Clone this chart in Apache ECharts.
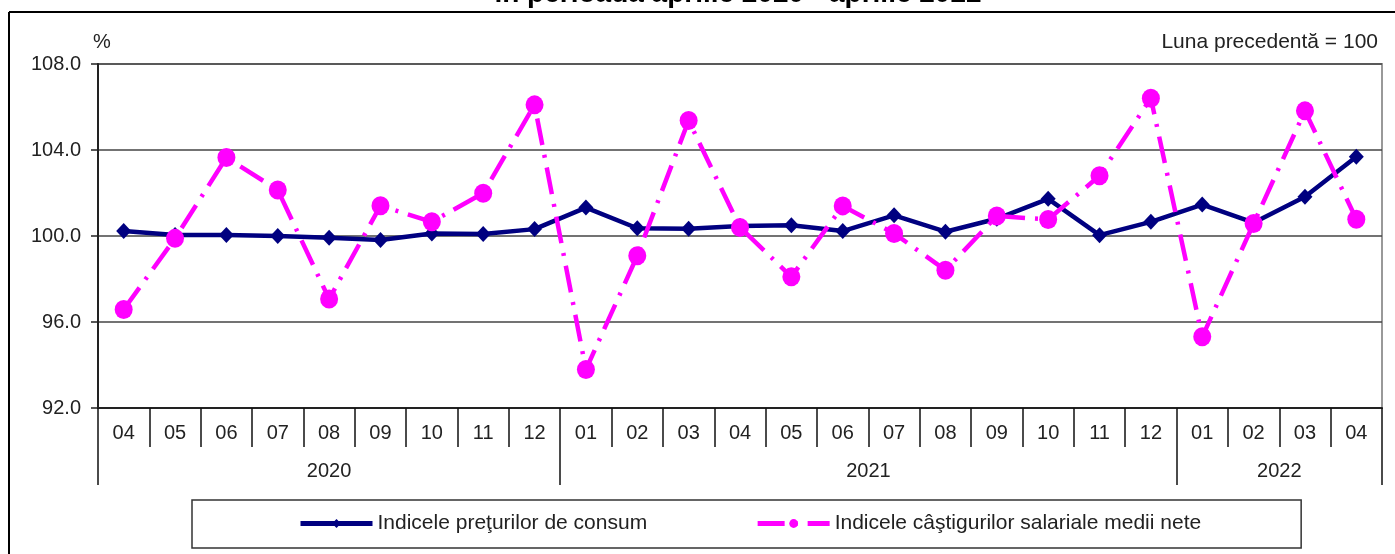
<!DOCTYPE html>
<html>
<head>
<meta charset="utf-8">
<script src="https://cdn.jsdelivr.net/npm/echarts@6/dist/echarts.min.js"></script>
<style>
html,body{margin:0;padding:0;background:#fff;}
#chart{width:1395px;height:554px;}
</style>
</head>
<body>
<div id="chart"></div>
<script>
const months = ['04','05','06','07','08','09','10','11','12','01','02','03','04','05','06','07','08','09','10','11','12','01','02','03','04'];
const years = ['2020','2021','2022'];
const yearBounds = [0, 9, 21, 25];
const yearLabelPos = [4.5, 15, 23];
const cpi = [100.23,100.05,100.05,100.0,99.92,99.81,100.12,100.09,100.32,101.32,100.36,100.34,100.46,100.5,100.23,100.96,100.2,100.8,101.73,100.04,100.66,101.46,100.62,101.83,103.69];
const wages = [96.58,99.89,103.65,102.14,97.07,101.41,100.66,101.99,106.1,93.79,99.08,105.37,100.4,98.1,101.4,100.12,98.41,100.93,100.77,102.8,106.41,95.31,100.58,105.82,100.78];
const seriesNames = ['Indicele preţurilor de consum','Indicele câştigurilor salariale medii nete'];
const titleText = 'în perioada aprilie 2020 - aprilie 2022';

const chart = echarts.init(document.getElementById('chart'));
const font = 'Liberation Sans, Arial, sans-serif';
chart.setOption({
  animation: false,
  textStyle: {fontFamily: font},
  graphic: [
    {type: 'text', x: 738, y: -20, style: {text: titleText, font: 'bold 28px ' + font, fill: '#000', align: 'center'}},
    {type: 'line', shape: {x1: 9, y1: 12, x2: 1395, y2: 12}, style: {stroke: '#000', lineWidth: 2}},
    {type: 'line', shape: {x1: 9, y1: 12, x2: 9, y2: 554}, style: {stroke: '#000', lineWidth: 2}},
    {type: 'text', left: 93, top: 32, style: {text: '%', font: '20px ' + font, fill: '#222'}},
    {type: 'text', right: 17, top: 32, style: {text: 'Luna precedentă = 100', font: '21px ' + font, fill: '#222'}}
  ],
  grid: {left: 98, right: 13, top: 64, bottom: 146, show: true, borderColor: '#999', borderWidth: 2, backgroundColor: 'transparent'},
  legend: {
    left: 192, top: 500,
    padding: [13, 100, 14, 106],
    itemGap: 108,
    itemWidth: 72, itemHeight: 11,
    borderColor: '#333', borderWidth: 1.5,
    lineStyle: {width: 5},
    textStyle: {fontSize: 21, color: '#222', fontFamily: font},
    data: seriesNames
  },
  xAxis: [
    {
      type: 'category', data: months, boundaryGap: true, position: 'bottom',
      axisLine: {show: true, lineStyle: {color: '#222', width: 2}},
      axisTick: {show: true, interval: 0, length: 39, lineStyle: {color: '#111', width: 1.5}},
      axisLabel: {interval: 0, margin: 15, fontSize: 20, color: '#222'},
      splitLine: {show: false}
    },
    {
      type: 'value', min: 0, max: 25, position: 'bottom', offset: 0,
      axisLine: {show: false},
      axisTick: {show: true, customValues: yearBounds, length: 77, lineStyle: {color: '#111', width: 1.5}},
      axisLabel: {customValues: yearLabelPos, margin: 53, fontSize: 20, color: '#222',
        formatter: function (v) { const i = yearLabelPos.indexOf(v); return i >= 0 ? years[i] : ''; }},
      splitLine: {show: false}
    }
  ],
  yAxis: {
    type: 'value', min: 92, max: 108, interval: 4,
    axisLine: {show: true, lineStyle: {color: '#222', width: 2}},
    axisTick: {show: true, length: 7, lineStyle: {color: '#222', width: 1.5}},
    axisLabel: {margin: 17, fontSize: 20, color: '#222', formatter: v => v.toFixed(1)},
    splitLine: {show: true, lineStyle: {color: '#444', width: 1.5}}
  },
  series: [
    {
      name: seriesNames[0], type: 'line', data: cpi, xAxisIndex: 0,
      symbol: 'diamond', symbolSize: [15, 16],
      itemStyle: {color: '#000080'},
      lineStyle: {color: '#000080', width: 4.5},
      z: 2
    },
    {
      name: seriesNames[1], type: 'line', data: wages, xAxisIndex: 0,
      symbol: 'circle', symbolSize: [18, 19],
      itemStyle: {color: '#ff00ff'},
      lineStyle: {color: '#ff00ff', width: 4.5, type: [27, 10, 3, 10]},
      z: 3
    }
  ]
});
</script>
</body>
</html>
